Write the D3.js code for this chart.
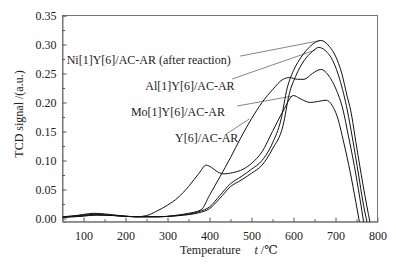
<!DOCTYPE html>
<html><head><meta charset="utf-8">
<script src="https://cdn.jsdelivr.net/npm/d3@7"></script>
<style>body{margin:0;background:#fff}svg{display:block}</style>
</head><body><svg id="c" width="396" height="265"></svg>
<script>
// Data (temperature °C, TCD signal a.u.)
const tempNi = [50,100,130,175,225,275,325,375,400,425,450,475,500,525,550,570,585,600,620,640,665,685,700,715,728,736,750,765,775,782];
const sigNi  = [0.002,0.004,0.006,0.005,0.003,0.003,0.005,0.012,0.02,0.04,0.06,0.072,0.085,0.1,0.13,0.17,0.225,0.255,0.28,0.297,0.307,0.297,0.28,0.25,0.21,0.187,0.125,0.06,0.02,-0.006];
const tempAl = [50,100,130,175,225,275,325,375,400,425,450,475,500,525,550,575,590,605,625,645,660,675,695,710,728,740,755,765,775];
const sigAl  = [0.003,0.006,0.007,0.005,0.003,0.003,0.005,0.01,0.017,0.035,0.055,0.066,0.078,0.092,0.12,0.16,0.215,0.245,0.272,0.288,0.295,0.29,0.27,0.24,0.187,0.14,0.075,0.03,-0.006];
const tempMo = [50,75,100,125,150,175,200,225,250,275,300,325,350,375,392,405,420,435,455,480,500,525,550,575,600,615,640,660,678,692,703,720,735,748,757];
const sigMo  = [0.002,0.004,0.007,0.009,0.008,0.006,0.004,0.003,0.005,0.013,0.023,0.036,0.055,0.078,0.092,0.088,0.08,0.077,0.079,0.085,0.095,0.115,0.15,0.185,0.212,0.207,0.2,0.202,0.204,0.195,0.178,0.13,0.08,0.03,-0.006];
const tempY  = [50,100,130,175,225,275,325,350,380,400,425,450,475,500,525,550,575,590,610,625,645,665,685,700,718,730,745,758,767];
const sigY   = [0.002,0.005,0.006,0.005,0.003,0.003,0.006,0.009,0.015,0.04,0.072,0.105,0.14,0.172,0.2,0.222,0.24,0.243,0.24,0.24,0.25,0.257,0.245,0.225,0.187,0.145,0.09,0.035,-0.006];
const xTicks = [100,200,300,400,500,600,700,800];
const yTicks = [0.00,0.05,0.10,0.15,0.20,0.25,0.30,0.35];
const labels = ["Ni[1]Y[6]/AC-AR (after reaction)","Al[1]Y[6]/AC-AR","Mo[1]Y[6]/AC-AR","Y[6]/AC-AR"];
// label anchor (temp, signal), leader start and end (temp, signal)
const labelPos = [[60,0.266],[247,0.2216],[213,0.1767],[318,0.1319]];
const leadFrom = [[473,0.280],[454,0.2405],[466,0.194],[440,0.1457]];
const leadTo   = [[665,0.307],[652,0.2905],[597,0.211],[495,0.1716]];

const FONT = "'Liberation Serif', Tinos, 'Times New Roman', 'Nimbus Roman', 'DejaVu Serif', serif";
const svg = d3.select("#c");
const L=62.5,R=377.5,T=15.5,B=221.7;
const x = d3.scaleLinear().domain([50,800]).range([L,R]);
const y = d3.scaleLinear().domain([-0.0055,0.35]).range([B,T]);

svg.append("defs").append("clipPath").attr("id","cp").append("rect")
  .attr("x",L).attr("y",T).attr("width",R-L).attr("height",B-T);

// frame
svg.append("rect").attr("x",L).attr("y",T).attr("width",R-L).attr("height",B-T)
  .attr("fill","none").attr("stroke","#777").attr("stroke-width",1);

// axes with inward ticks
const xMinor = d3.range(150,800,100);
const gx = svg.append("g").attr("transform",`translate(0,${B})`);
gx.call(d3.axisBottom(x).tickValues(xTicks).tickSize(-4).tickPadding(10).tickFormat(d3.format("d")));
gx.selectAll(".tick").filter(d=>d===800).select("line").remove();
svg.append("g").attr("transform",`translate(0,${B})`)
  .call(d3.axisBottom(x).tickValues(xMinor).tickSize(-2.5).tickFormat(""))
  .select(".domain").remove();
const yMinor = d3.range(0.025,0.35,0.05);
const gy = svg.append("g").attr("transform",`translate(${L},0)`);
gy.call(d3.axisLeft(y).tickValues(yTicks).tickSize(-4).tickPadding(6).tickFormat(d3.format(".2f")));
svg.append("g").attr("transform",`translate(${L},0)`)
  .call(d3.axisLeft(y).tickValues(yMinor).tickSize(-2.5).tickFormat(""))
  .select(".domain").remove();
svg.selectAll("g").attr("font-family",null).attr("font-size",null);
svg.selectAll(".domain").attr("stroke","#777");
svg.selectAll(".tick line").attr("stroke","#555");
svg.selectAll(".tick text").style("font-size","12px").style("font-family",FONT).attr("fill","#222");

// curves
const series = [[tempNi,sigNi],[tempAl,sigAl],[tempMo,sigMo],[tempY,sigY]];
const line = d3.line().x(d=>x(d[0])).y(d=>y(d[1])).curve(d3.curveMonotoneX);
const gc = svg.append("g").attr("clip-path","url(#cp)");
series.forEach(([t,s])=>{
  gc.append("path").attr("d",line(t.map((v,i)=>[v,s[i]])))
    .attr("fill","none").attr("stroke","#111").attr("stroke-width",1);
});

// leaders and labels
labels.forEach((lab,i)=>{
  svg.append("line").attr("x1",x(leadFrom[i][0])).attr("y1",y(leadFrom[i][1]))
    .attr("x2",x(leadTo[i][0])).attr("y2",y(leadTo[i][1]))
    .attr("stroke","#333").attr("stroke-width",0.6);
  svg.append("text").attr("x",x(labelPos[i][0])).attr("y",y(labelPos[i][1]))
    .style("font-size","12px").style("font-family",FONT).attr("fill","#222").text(lab);
});

// axis titles
svg.append("text").attr("transform","translate(23,114) rotate(-90)")
  .attr("text-anchor","middle").style("font-size","12px").style("font-family",FONT).attr("fill","#222").text("TCD signal /(a.u.)");
const xt = svg.append("text").attr("x",180).attr("y",254).style("font-size","12px").style("font-family",FONT).attr("fill","#222");
xt.append("tspan").text("Temperature");
xt.append("tspan").attr("dx",14).attr("font-style","italic").text("t");
xt.append("tspan").text(" /℃");
</script></body></html>
